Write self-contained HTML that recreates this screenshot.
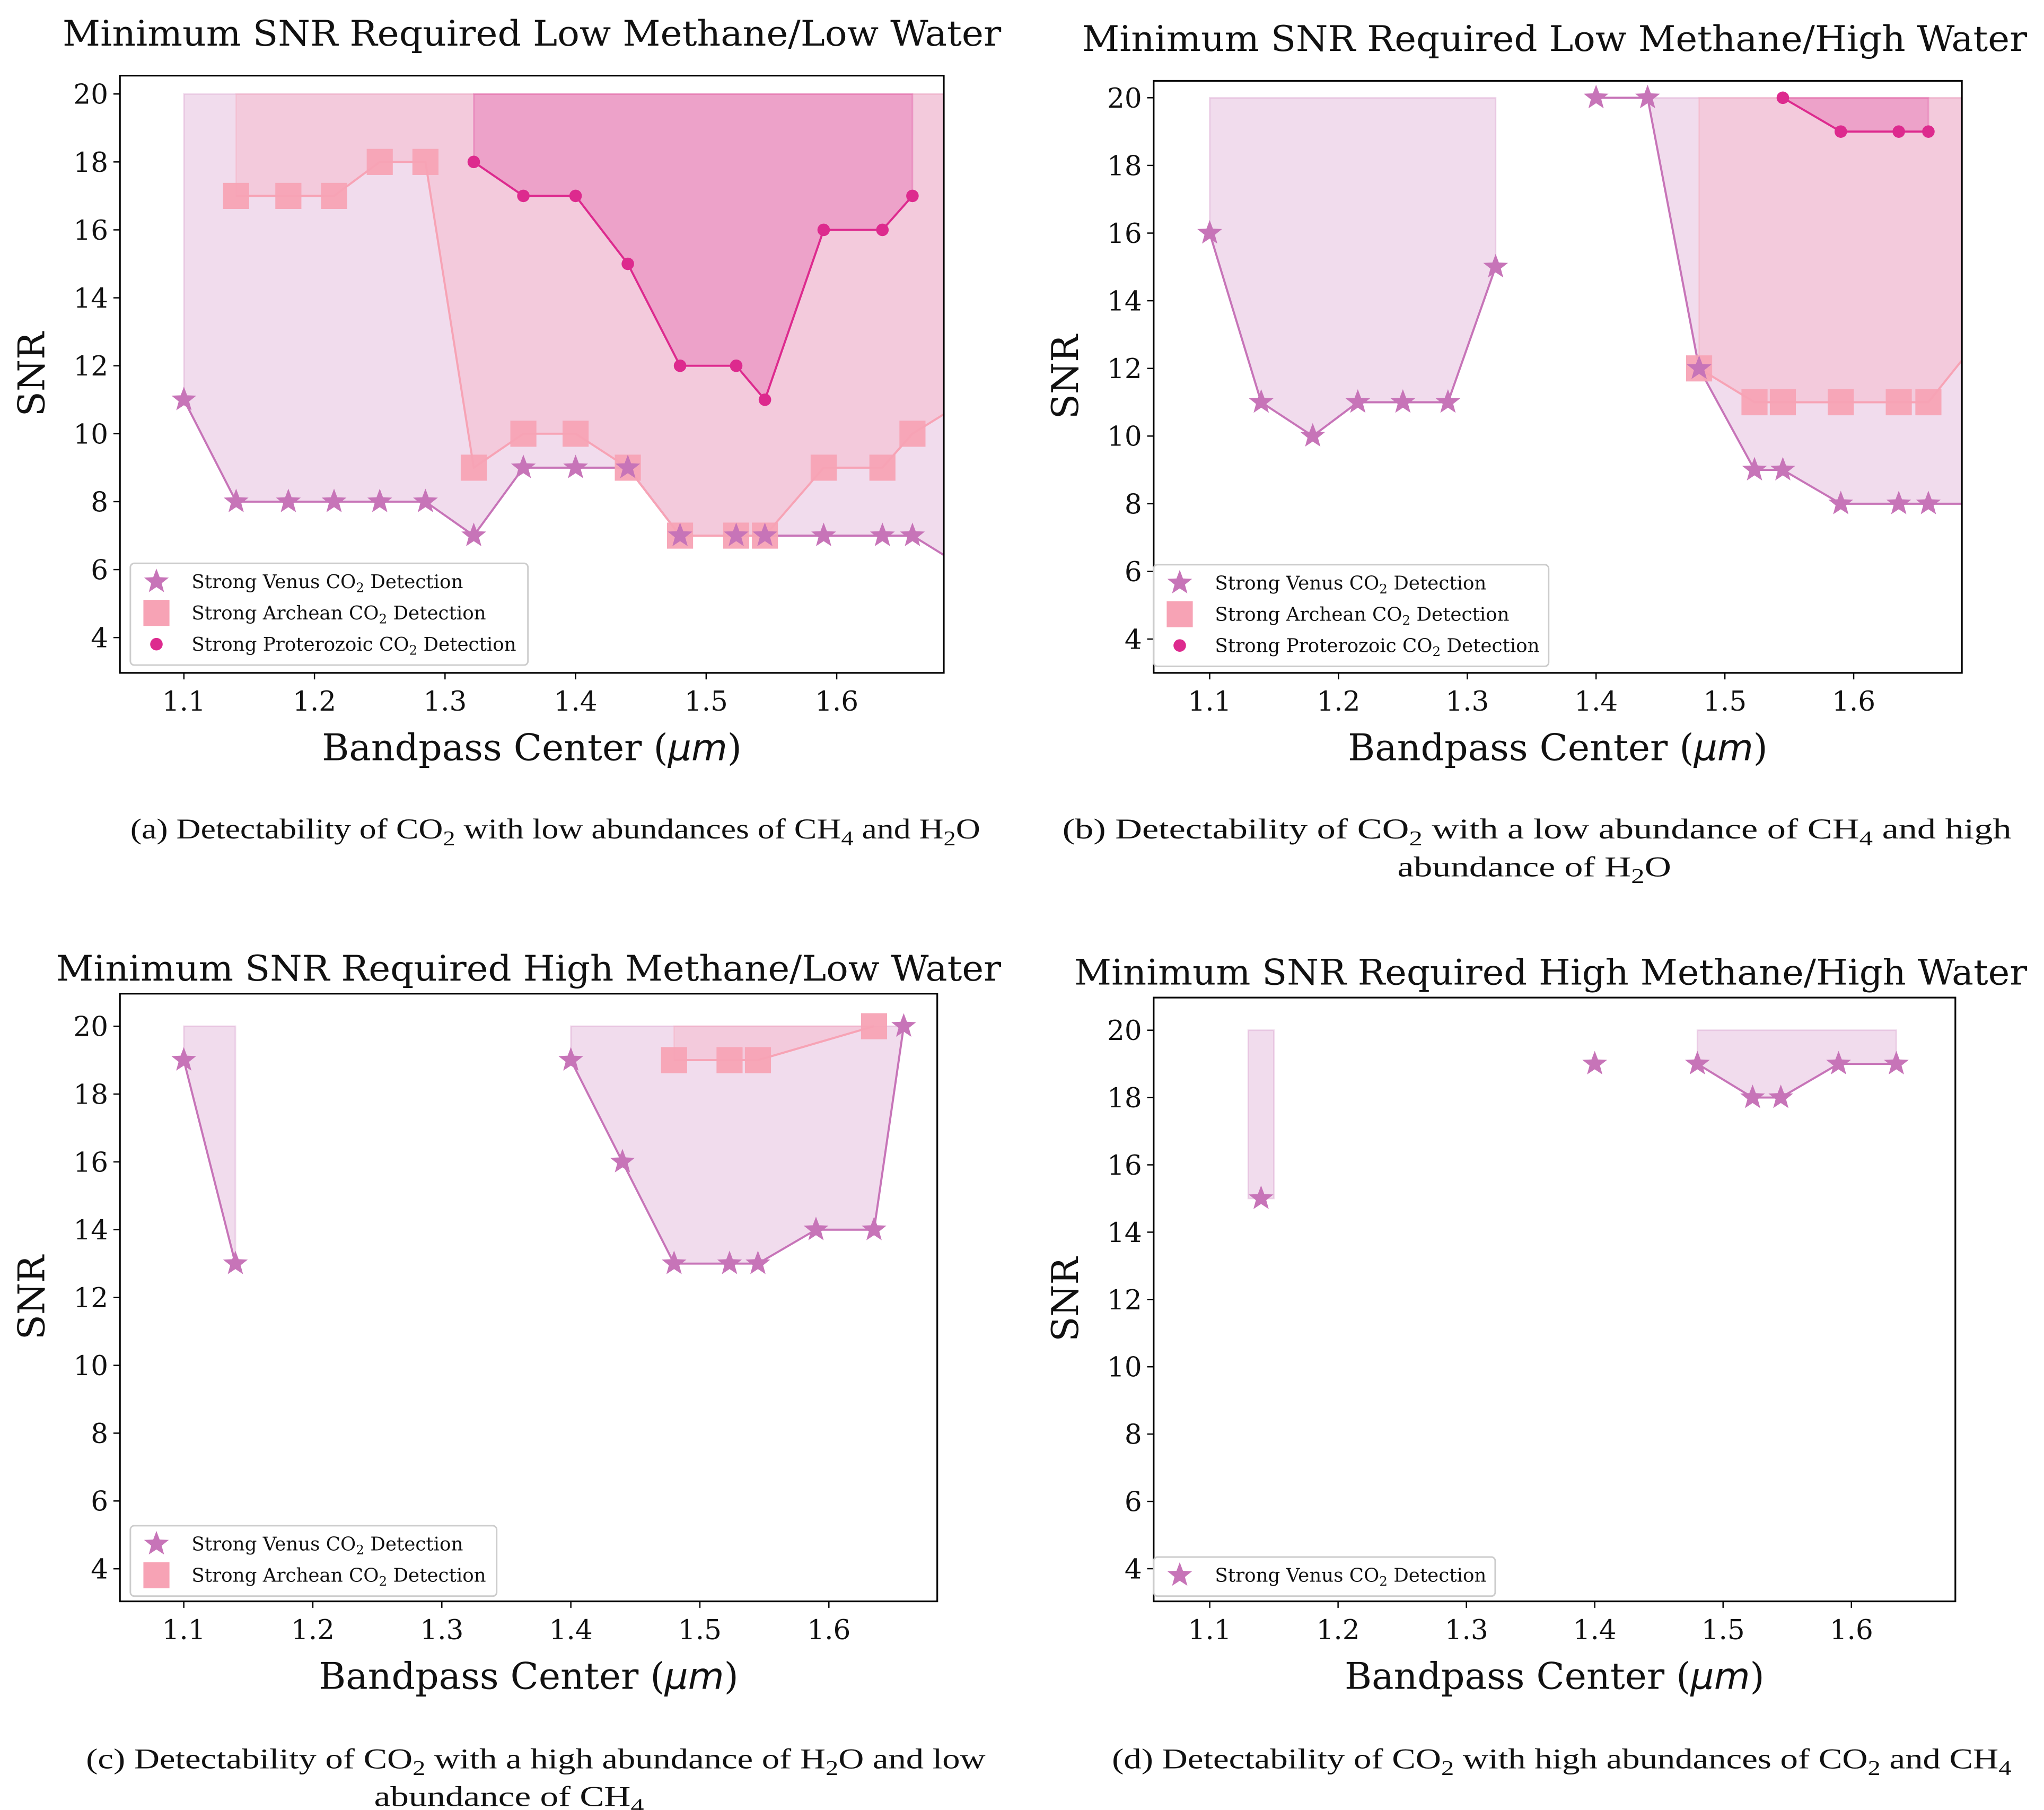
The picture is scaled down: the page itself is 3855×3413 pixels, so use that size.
<!DOCTYPE html>
<html><head><meta charset="utf-8"><style>
html,body{margin:0;padding:0;background:#fff;}
svg{display:block;}
text{font-family:"DejaVu Serif","Liberation Serif",serif;fill:#111;}
.cap{font-family:"Liberation Serif","DejaVu Serif",serif;}
</style></head><body>
<svg id="fig" width="3855" height="3413" viewBox="0 0 1568 1388" preserveAspectRatio="none" xmlns="http://www.w3.org/2000/svg"></svg>
<script>
// ---- data ----
const aVenusX=[1.10,1.14,1.18,1.215,1.25,1.285,1.322,1.36,1.40,1.44,1.48,1.523,1.545,1.59,1.635,1.658,1.70];
const aVenusY=[11,8,8,8,8,8,7,9,9,9,7,7,7,7,7,7,6];
const aArchX=[1.14,1.18,1.215,1.25,1.285,1.322,1.36,1.40,1.44,1.48,1.523,1.545,1.59,1.635,1.658,1.70];
const aArchY=[17,17,17,18,18,9,10,10,9,7,7,7,9,9,10,11];
const aProtX=[1.322,1.36,1.40,1.44,1.48,1.523,1.545,1.59,1.635,1.658];
const aProtY=[18,17,17,15,12,12,11,16,16,17];

const bVenus1X=[1.10,1.14,1.18,1.215,1.25,1.285,1.322];
const bVenus1Y=[16,11,10,11,11,11,15];
const bVenus2X=[1.40,1.44,1.48,1.523,1.545,1.59,1.635,1.658,1.70];
const bVenus2Y=[20,20,12,9,9,8,8,8,8];
const bArchX=[1.48,1.523,1.545,1.59,1.635,1.658,1.70];
const bArchY=[12,11,11,11,11,11,13];
const bProtX=[1.545,1.59,1.635,1.658];
const bProtY=[20,19,19,19];

const cVenus1X=[1.10,1.14];
const cVenus1Y=[19,13];
const cVenus2X=[1.40,1.44,1.48,1.523,1.545,1.59,1.635,1.658];
const cVenus2Y=[19,16,13,13,13,14,14,20];
const cArchX=[1.48,1.523,1.545,1.635];
const cArchY=[19,19,19,20];

const dVenus1X=[1.13,1.15];
const dVenus1Y=[15,15];
const dVenusPtX=[1.14,1.40];
const dVenusPtY=[15,19];
const dVenus2X=[1.48,1.523,1.545,1.59,1.635];
const dVenus2Y=[19,18,18,19,19];

const xTicks=[1.1,1.2,1.3,1.4,1.5,1.6];
const xTickLabels=["1.1","1.2","1.3","1.4","1.5","1.6"];
const yTicks=[4,6,8,10,12,14,16,18,20];

// ---- drawing ----
const NS="http://www.w3.org/2000/svg";
const fig=document.getElementById('fig');
function el(tag,attrs,parent){const e=document.createElementNS(NS,tag);for(const k in attrs)e.setAttribute(k,attrs[k]);(parent||fig).appendChild(e);return e;}
const VEN="#c774b8",ARC="#f7a3b5",PRO="#dd2a8e";

function starPath(cx,cy,r){let d="";for(let i=0;i<10;i++){const rr=i%2?r*0.42:r;const a=-Math.PI/2+i*Math.PI/5;d+=(i?"L":"M")+(cx+rr*Math.cos(a)).toFixed(2)+","+(cy+rr*Math.sin(a)).toFixed(2);}return d+"Z";}

function makePanel(id,box,xd,yd,title,tL,tR,titleY,cap){
  const g=el('g',{});
  
  
  const sx=v=>box.l+(v-xd[0])/(xd[1]-xd[0])*(box.r-box.l);
  const sy=v=>box.b-(v-yd[0])/(yd[1]-yd[0])*(box.b-box.t);
  const cp=el('clipPath',{id:'clip'+id},g);
  el('rect',{x:box.l,y:box.t,width:box.r-box.l,height:box.b-box.t},cp);
  const plot=el('g',{'clip-path':'url(#clip'+id+')'},g);
  
  
  const t=el('text',{x:tL,y:titleY,'font-size':27,textLength:tR-tL,lengthAdjust:'spacingAndGlyphs'},g);t.textContent=title;
  
  const fr=el('rect',{x:box.l,y:box.t,width:box.r-box.l,height:box.b-box.t,fill:'none',stroke:'#000','stroke-width':1.3},g);
  
  xTicks.forEach((v,i)=>{const x=sx(v);el('line',{x1:x,x2:x,y1:box.b,y2:box.b+5,stroke:'#000','stroke-width':1},g);
    const tl=el('text',{x:x,y:box.b+29,'font-size':21,'text-anchor':'middle'},g);tl.textContent=xTickLabels[i];
    });
  yTicks.forEach(v=>{const y=sy(v);el('line',{x1:box.l-5,x2:box.l,y1:y,y2:y,stroke:'#000','stroke-width':1},g);
    const tl=el('text',{x:box.l-9,y:y+7.5,'font-size':21,'text-anchor':'end'},g);tl.textContent=String(v);
    });
  const xc=(box.l+box.r)/2;
  const xl=el('text',{x:xc-161,y:box.b+67,'font-size':28,textLength:322,lengthAdjust:'spacingAndGlyphs'},g);
  xl.innerHTML='Bandpass Center (<tspan font-style="italic" font-family="DejaVu Sans, sans-serif">μm</tspan>)';
  
  const yl=el('text',{x:0,y:0,'font-size':28,'text-anchor':'middle',transform:`translate(${box.l-58},${(box.t+box.b)/2}) rotate(-90)`},g);
  yl.textContent='SNR';
  cap.forEach(line=>{const c=el('text',{x:line[1],y:line[3],'font-size':22,class:'cap',textLength:line[2]-line[1],lengthAdjust:'spacingAndGlyphs'},g);c.innerHTML=line[0];
    });
  return {g,plot,sx,sy,box};
}

function fillSeries(P,xs,ys,color,op,name){
  let d="";xs.forEach((x,i)=>{d+=(i?"L":"M")+P.sx(x)+","+P.sy(ys[i]);});
  for(let i=xs.length-1;i>=0;i--)d+="L"+P.sx(xs[i])+","+P.sy(20);
  const p=el('path',{d:d+"Z",fill:color,'fill-opacity':op,stroke:color,'stroke-opacity':op,'stroke-width':1.2},P.plot);
  
}
function lineSeries(P,xs,ys,color,name){
  const pts=xs.map((x,i)=>P.sx(x)+","+P.sy(ys[i])).join(" ");
  const l=el('polyline',{points:pts,fill:'none',stroke:color,'stroke-width':1.6},P.plot);
  
}
function markers(P,xs,ys,kind,name){
  xs.forEach((x,i)=>{const cx=P.sx(x),cy=P.sy(ys[i]);let m;
    if(kind==='star')m=el('path',{d:starPath(cx,cy,10),fill:VEN},P.plot);
    else if(kind==='sq')m=el('rect',{x:cx-10,y:cy-10,width:20,height:20,fill:ARC,'fill-opacity':0.95},P.plot);
    else m=el('circle',{cx:cx,cy:cy,r:4.8,fill:PRO},P.plot);
    });
}
function legend(P,x,y,w,entries){
  const h=entries.length*24+6;
  const lg=el('g',{},P.g);
  el('rect',{x:x,y:y,width:w,height:h,rx:3,fill:'#fff','fill-opacity':0.85,stroke:'#ccc','stroke-width':1.2},lg);
  entries.forEach((e,i)=>{const cy=y+14+i*24;const cx=x+20;
    const eg=el('g',{},lg);
    if(e[0]==='star')el('path',{d:starPath(cx,cy,10),fill:VEN},eg);
    else if(e[0]==='sq')el('rect',{x:cx-10,y:cy-10,width:20,height:20,fill:ARC},eg);
    else el('circle',{cx:cx,cy:cy,r:4.8,fill:PRO},eg);
    const t=el('text',{x:x+47,y:cy+5,'font-size':14.5},eg);
    t.innerHTML='Strong '+e[1]+' CO<tspan font-size="10" dy="3">2</tspan><tspan dy="-3"> Detection</tspan>';});
}
const sub=s=>`<tspan font-size="16" dy="5">${s}</tspan><tspan dy="-5">`;

const A=makePanel('a',{l:92,t:58,r:724,b:516},[1.051,1.682],[2.96,20.54],'Minimum SNR Required Low Methane/Low Water',48,768,35,
 [[`(a) Detectability of CO${sub('2')} with low abundances of CH${sub('4')} and H${sub('2')}O</tspan></tspan></tspan>`,100,752,643]]);
fillSeries(A,aVenusX,aVenusY,VEN,0.25,'venus');
fillSeries(A,aArchX,aArchY,ARC,0.3,'archean');
fillSeries(A,aProtX,aProtY,PRO,0.25,'proterozoic');
lineSeries(A,aVenusX,aVenusY,VEN,'venus');lineSeries(A,aArchX,aArchY,ARC,'archean');lineSeries(A,aProtX,aProtY,PRO,'proterozoic');
markers(A,aArchX,aArchY,'sq','archean');markers(A,aVenusX,aVenusY,'star','venus');markers(A,aProtX,aProtY,'dot','proterozoic');
legend(A,100,432,305,[['star','Venus'],['sq','Archean'],['dot','Proterozoic']]);

const B=makePanel('b',{l:885,t:62,r:1505,b:516},[1.0565,1.684],[3.0,20.5],'Minimum SNR Required Low Methane/High Water',830,1555,39,
 [[`(b) Detectability of CO${sub('2')} with a low abundance of CH${sub('4')} and high</tspan></tspan>`,815,1543,643],
  [`abundance of H${sub('2')}O</tspan>`,1072,1282,672]]);
fillSeries(B,bVenus1X,bVenus1Y,VEN,0.25,'venus');fillSeries(B,bVenus2X,bVenus2Y,VEN,0.25,'venus');
fillSeries(B,bArchX,bArchY,ARC,0.3,'archean');fillSeries(B,bProtX,bProtY,PRO,0.25,'proterozoic');
lineSeries(B,bVenus1X,bVenus1Y,VEN,'venus');lineSeries(B,bVenus2X,bVenus2Y,VEN,'venus');
lineSeries(B,bArchX,bArchY,ARC,'archean');lineSeries(B,bProtX,bProtY,PRO,'proterozoic');
markers(B,bArchX,bArchY,'sq','archean');markers(B,bVenus1X,bVenus1Y,'star','venus');markers(B,bVenus2X,bVenus2Y,'star','venus');markers(B,bProtX,bProtY,'dot','proterozoic');
legend(B,885,433,303,[['star','Venus'],['sq','Archean'],['dot','Proterozoic']]);

const C=makePanel('c',{l:92,t:762,r:719,b:1228},[1.0505,1.684],[3.04,20.96],'Minimum SNR Required High Methane/Low Water',43,768,752,
 [[`(c) Detectability of CO${sub('2')} with a high abundance of H${sub('2')}O and low</tspan></tspan>`,66,756,1356],
  [`abundance of CH${sub('4')}</tspan>`,287,494,1385]]);
fillSeries(C,cVenus1X,cVenus1Y,VEN,0.25,'venus');fillSeries(C,cVenus2X,cVenus2Y,VEN,0.25,'venus');
fillSeries(C,cArchX,cArchY,ARC,0.3,'archean');
lineSeries(C,cVenus1X,cVenus1Y,VEN,'venus');lineSeries(C,cVenus2X,cVenus2Y,VEN,'venus');lineSeries(C,cArchX,cArchY,ARC,'archean');
markers(C,cArchX,cArchY,'sq','archean');markers(C,cVenus1X,cVenus1Y,'star','venus');markers(C,cVenus2X,cVenus2Y,'star','venus');
legend(C,100,1170,281,[['star','Venus'],['sq','Archean']]);

const D=makePanel('d',{l:885,t:765,r:1500,b:1228},[1.0563,1.681],[3.03,20.97],'Minimum SNR Required High Methane/High Water',824,1555,755,
 [[`(d) Detectability of CO${sub('2')} with high abundances of CO${sub('2')} and CH${sub('4')}</tspan></tspan></tspan>`,853,1543,1356]]);
fillSeries(D,dVenus1X,dVenus1Y,VEN,0.25,'venus');fillSeries(D,dVenus2X,dVenus2Y,VEN,0.25,'venus');
lineSeries(D,dVenus2X,dVenus2Y,VEN,'venus');
markers(D,dVenusPtX,dVenusPtY,'star','venus');markers(D,dVenus2X,dVenus2Y,'star','venus');
legend(D,885,1194,262,[['star','Venus']]);
</script>
</body></html>
